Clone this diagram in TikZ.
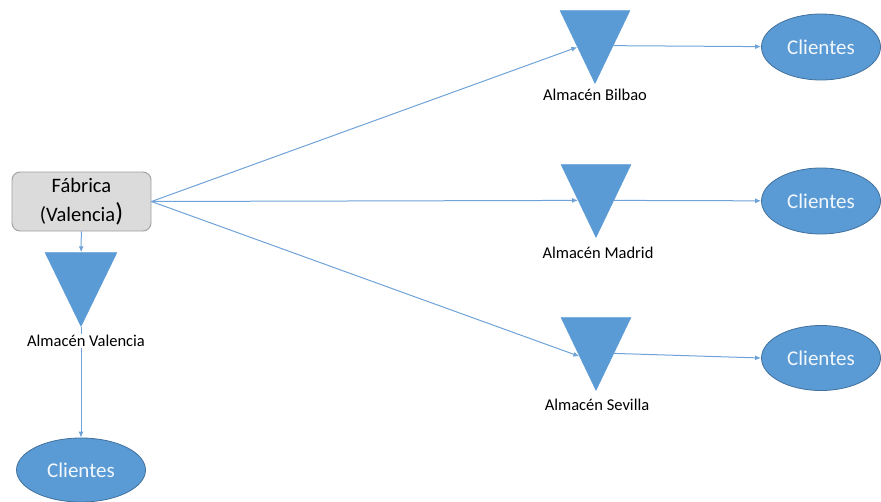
\documentclass[tikz,border=0pt]{standalone}
\usepackage{fontspec}
\setmainfont{Carlito}
\usetikzlibrary{shapes.geometric,arrows.meta,calc}
\definecolor{azul}{HTML}{5B9BD5}
\definecolor{azulborde}{HTML}{41719C}
\definecolor{linea}{HTML}{6FA3D8}
\begin{document}
\begin{tikzpicture}[x=1pt,y=-1pt,
    almacen/.style={isosceles triangle, isosceles triangle stretches, shape border rotate=270,
      fill=azul, draw=azul, inner sep=0pt, minimum width=70pt, minimum height=73pt, anchor=apex},
    clientes/.style={ellipse, fill=azul, draw=azulborde, line width=0.8pt, inner sep=0pt,
      text=white!92!azul, font=\fontsize{21}{24}\selectfont},
    etiqueta/.style={inner sep=1pt, font=\fontsize{16.5}{19}\selectfont},
    flujo/.style={draw=linea, line width=1pt, -{Latex[length=6pt,width=5pt]}}]
    \useasboundingbox (0,0) rectangle (881,501);
    \node[draw=gray!75, fill=gray!28, rounded corners=8pt, line width=0.9pt, minimum width=139pt,
      minimum height=59pt, align=center, font=\fontsize{20.5}{29}\selectfont] (fab) at (81.5,201.5)
      {Fábrica\\(Valencia{\fontsize{26}{26}\selectfont)}};
    \node[almacen] (bil) at (595,84) {}; \node[almacen] (mad) at (596,238) {};
    \node[almacen] (sev) at (596,391) {}; \node[almacen, minimum width=72pt, minimum height=74pt] (val) at (81,327) {};
    \node[clientes, minimum width=119pt, minimum height=66pt] (cbil) at (821,47) {Clientes};
    \node[clientes, minimum width=119pt, minimum height=66pt] (cmad) at (821,201) {Clientes};
    \node[clientes, minimum width=119pt, minimum height=65pt] (csev) at (821,358) {Clientes};
    \node[clientes, minimum width=129pt, minimum height=64pt] (cval) at (81,470) {Clientes};
    % puntos de entrada y salida en los lados de cada almacen
    \coordinate (bil-in) at ($(bil.right corner)!0.5!(bil.apex)$);
    \coordinate (mad-in) at ($(mad.right corner)!0.49!(mad.apex)$);
    \coordinate (sev-in) at ($(sev.right corner)!0.53!(sev.apex)$);
    \coordinate (bil-out) at ($(bil.left corner)!0.48!(bil.apex)$);
    \coordinate (mad-out) at ($(mad.left corner)!0.49!(mad.apex)$);
    \coordinate (sev-out) at ($(sev.left corner)!0.49!(sev.apex)$);
    \draw[flujo] (fab.east) -- (bil-in); \draw[flujo] (fab.east) -- (mad-in);
    \draw[flujo] (fab.east) -- (sev-in); \draw[flujo] (fab) -- (val);
    \draw[flujo] (bil-out) -- (cbil); \draw[flujo] (mad-out) -- (cmad);
    \draw[flujo] (sev-out) -- (csev.west); \draw[flujo] (val) -- (cval);
    \node[etiqueta] (lbil) at (595,95) {Almacén Bilbao};
    \node[etiqueta] (lmad) at (598,253) {Almacén Madrid};
    \node[etiqueta] (lsev) at (597,405) {Almacén Sevilla};
    \node[etiqueta, fill=white] (lval) at (86,341) {Almacén Valencia};
  \end{tikzpicture}
\end{document}
